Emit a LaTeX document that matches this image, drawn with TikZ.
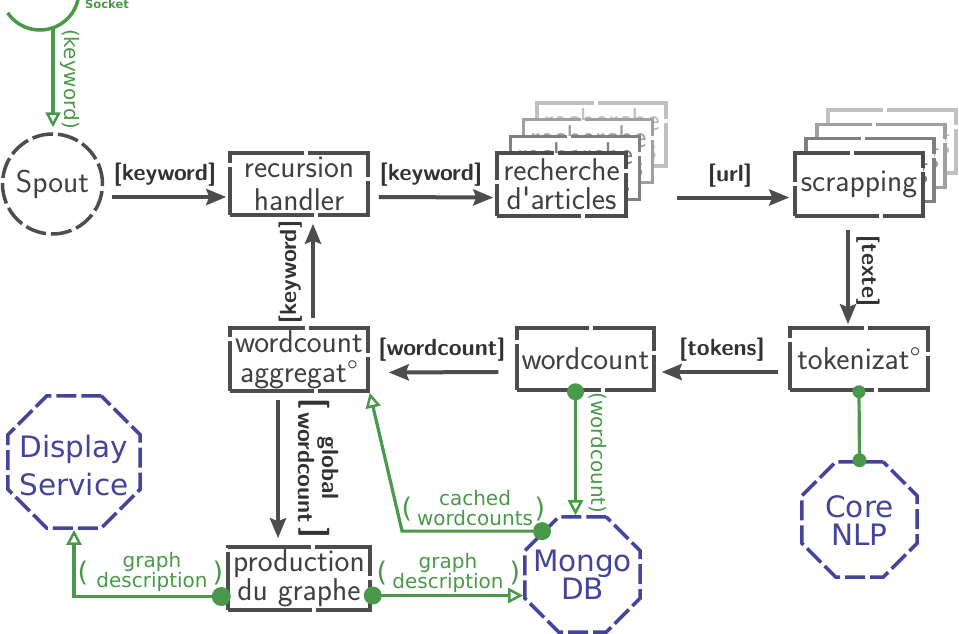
\documentclass[tikz,border=0pt]{standalone}
\usepackage{fontspec}
\usetikzlibrary{arrows.meta,shapes.geometric,calc}
\newfontfamily\dvs{DejaVu Sans}
\newfontfamily\lmsq{lmsans10-regular.otf}
\newcommand\sq{{\lmsq '}}
\newcommand\bigbr[1]{\raisebox{-2pt}{\fontsize{31}{31}\selectfont #1}}
\definecolor{dk}{RGB}{77,77,77}
\definecolor{txt}{RGB}{64,64,64}
\definecolor{lbl}{RGB}{50,50,50}
\definecolor{gr}{RGB}{74,153,74}
\definecolor{bl}{RGB}{68,68,155}
\definecolor{g2}{RGB}{128,128,128}
\definecolor{g3}{RGB}{160,160,160}
\definecolor{g4}{RGB}{192,192,192}
\begin{document}
\begin{tikzpicture}[x=1pt,y=-1pt,
 boxbase/.style={rectangle, line width=3.5pt, fill=white, inner sep=0pt, dash pattern=on 84pt off 4pt, align=center, font=\sffamily\fontsize{31.5}{32}\selectfont},
 box/.style={boxbase, draw=dk, text=txt, minimum width=138pt, minimum height=62pt},
 recbox/.style={boxbase, minimum width=129pt, minimum height=63pt, font=\sffamily\fontsize{31.5}{29}\selectfont},
 scrbox/.style={boxbase, minimum width=128pt, minimum height=63pt},
 oct/.style={regular polygon, regular polygon sides=8, draw=bl, line width=3.5pt, dash pattern=on 20pt off 5pt, inner sep=0pt},
 octtext/.style={text=bl, align=center, inner sep=0pt},
 lab/.style={text=lbl, font=\sffamily\bfseries\fontsize{23.4}{24}\selectfont, inner sep=0pt, align=center},
 darr/.style={draw=dk, line width=4pt, -{Stealth[length=20pt,width=16pt,inset=3pt]}},
 garr/.style={draw=gr, line width=3.2pt, -{Triangle[open,length=15pt,width=15pt,line width=2.5pt]}},
 gline/.style={draw=gr, line width=3.2pt},
 glab/.style={text=gr, font=\dvs\fontsize{20}{20}\selectfont, inner sep=0pt, align=center},
 gpar/.style={text=gr, font=\dvs\fontsize{27}{27}\selectfont, inner sep=0pt},
 dot/.style={circle, fill=gr, inner sep=0pt, minimum size=#1},
]
\useasboundingbox (0,0) rectangle (959,634);
\clip (0,0) rectangle (959,634);

% socket
\draw[gr, line width=3.5pt] (40,-9) ++(214:39pt) arc[start angle=214,end angle=365,radius=39pt];
\node[anchor=base west, text=gr, font=\dvs\bfseries\fontsize{11.5}{12}\selectfont, inner sep=0pt] (socklab) at (85,9) {Socket};
\coordinate (sockb) at (53,28);

% nodes
\node[circle, draw=dk, line width=3.5pt, dash pattern=on 21pt off 5pt, minimum size=100pt, inner sep=0pt, text=txt, font=\sffamily\fontsize{31.5}{33}\selectfont] (spout) at (52.5,184) {Spout};
\node[box, font=\sffamily\fontsize{31.5}{33}\selectfont] (rh) at (299,184) {recursion\\handler};

\node[recbox, draw=g4, text=g4] (rec4) at (601.5,134.5) {recherche\\d\sq articles};
\node[recbox, draw=g3, text=g3] (rec3) at (588.2,151.2) {recherche\\d\sq articles};
\node[recbox, draw=g2, text=g2] (rec2) at (574.8,167.8) {recherche\\d\sq articles};
\node[recbox, draw=dk, text=txt] (rec) at (561.5,184.5) {recherche\\d\sq articles};

\node[scrbox, draw=g4, text=g4] (scr4) at (892,141.6) {scrapping};
\node[scrbox, draw=g3, text=g3] (scr3) at (881,155.9) {scrapping};
\node[scrbox, draw=g2, text=g2] (scr2) at (870,170.2) {scrapping};
\node[scrbox, draw=dk, text=txt] (scr) at (859,184.5) {scrapping};

\node[box] (tok) at (859,359) {tokenizat°};
\node[box, minimum width=137pt] (wc) at (585.5,359) {wordcount};
\node[box, minimum height=63pt, font=\sffamily\fontsize{31.5}{30}\selectfont] (agg) at (299,359.5) {wordcount\\aggregat°};
\node[box, minimum width=142pt, minimum height=63pt, font=\sffamily\fontsize{31.5}{23}\selectfont] (prod) at (299,578.5) {production\\du graphe};

\node[oct, minimum size=143pt] (disp) at (74,462) {};
\node[octtext, font=\dvs\fontsize{29.5}{38}\selectfont] (dispT) at ([yshift=-3pt]disp.center) {Display\\Service};
\node[oct, minimum size=124.5pt] (core) at (859.5,519.5) {};
\node[octtext, font=\dvs\fontsize{29.5}{28}\selectfont] (coreT) at ([yshift=-1pt]core.center) {Core\\NLP};
\node[oct, minimum size=124.5pt] (mongo) at (582.5,574.5) {};
\node[octtext, font=\dvs\fontsize{29.5}{28}\selectfont] (mongoT) at (mongo.center) {Mongo\\DB};

% dark arrows
\draw[darr] ([shift={(8pt,-13pt)}]spout.east) -- ([shift={(-2pt,-13pt)}]rh.west);
\draw[darr] ([shift={(9pt,-13pt)}]rh.east) -- ([shift={(-2pt,-13pt)}]rec.west);
\draw[darr] ([shift={(49pt,-13pt)}]rec.east) -- ([shift={(-4pt,-13pt)}]scr.west);
\draw[darr, shorten <=12pt, shorten >=2pt] ([xshift=-11pt]scr.south) -- ([xshift=-11pt]tok.north);
\draw[darr, shorten <=10pt, shorten >=6pt] ([yshift=-13pt]tok.west) -- ([yshift=-13pt]wc.east);
\draw[darr, shorten <=17pt, shorten >=19pt] ([yshift=-13pt]wc.west) -- ([yshift=-13pt]agg.east);
\draw[darr, shorten <=8pt, shorten >=7pt] ([xshift=14pt]agg.north) -- ([xshift=14pt]rh.south);
\draw[darr, shorten <=7pt, shorten >=7pt] ([xshift=-21pt]agg.south) -- ([xshift=-21pt]prod.north);

% dark labels
\node[lab] (l1) at (165,175) {[keyword]};
\node[lab] (l2) at (431,175) {[keyword]};
\node[lab] (l3) at (730,176) {[url]};
\node[lab, rotate=-90] (l4) at (868,271) {[texte]};
\node[lab] (l5) at (722,350) {[tokens]};
\node[lab] (l6) at (442,350) {[wordcount]};
\node[lab, rotate=90] (l7) at (291,272) {[keyword]};
\node[lab, rotate=-90] (l8) at (315,468) {\bigbr{[}\,\begin{tabular}{@{}c@{}}global\\wordcount\end{tabular}\,\bigbr{]}};

% green connectors
\draw[garr, shorten >=5pt] (sockb) -- (sockb |- spout.north);
\node[glab, rotate=-90] (gl1) at (70,79) {(keyword)};

\coordinate (wcd) at ([xshift=-10pt]wc.south);
\draw[garr] (wcd) -- (wcd |- mongo.north);
\node[dot=17pt] (wcdot) at (wcd) {};
\node[glab, rotate=-90] (gl2) at (598,453) {(wordcount)};

\draw[gline] (tok.south) -- (core.north);
\node[dot=13pt] (tokdot) at (tok.south) {};
\node[dot=14pt] (coredot) at (core.north) {};

\coordinate (md) at (mongo.133);
\coordinate (cbend) at ($(md)+(-140pt,0pt)$);
\draw[garr] (md) -- (cbend) -- (agg.south east);
\node[dot=18pt] (mdot) at (md) {};
\node[glab] (gl3) at (475,508) {cached\\wordcounts};
\node[gpar] (gp1) at (407,509) {(};
\node[gpar] (gp2) at (540,509) {)};

\coordinate (pd1) at ([shift={(-5pt,-18pt)}]prod.west);
\draw[garr] (pd1) -| (disp.south);
\node[dot=19pt] (pdot1) at (pd1) {};
\node[glab] (gl4) at (152,572) {graph\\description};
\node[gpar] (gp3) at (83,573) {(};
\node[gpar] (gp4) at (218,573) {)};

\coordinate (pd2) at ([shift={(1pt,-17pt)}]prod.east);
\draw[garr] (pd2) -- (pd2 -| mongo.west);
\node[dot=18pt] (pdot2) at (pd2) {};
\node[glab] (gl5) at (448,573) {graph\\description};
\node[gpar] (gp5) at (382,573) {(};
\node[gpar] (gp6) at (515,573) {)};
\end{tikzpicture}
\end{document}
